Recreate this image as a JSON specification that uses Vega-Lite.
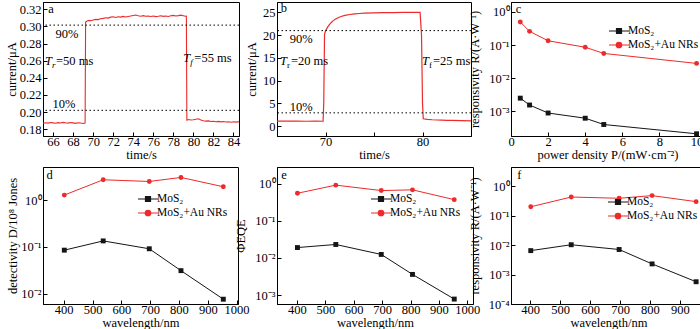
{
  "$schema": "https://vega.github.io/schema/vega-lite/v6.json",
  "padding": {"left": 4, "top": 1, "right": 0, "bottom": 0},
  "background": "white",
  "config": {
    "font": "Liberation Serif",
    "view": {"stroke": "#000000", "strokeWidth": 1},
    "axis": {"grid": false, "domainColor": "#000", "domainWidth": 1, "tickColor": "#000", "tickSize": -4, "tickWidth": 1,
      "labelColor": "#000", "labelFont": "Liberation Serif", "labelFontSize": 12.5, "labelPadding": 6, "labelFlush": false, "labelOverlap": false, "labelBound": false,
      "titleColor": "#000", "titleFont": "Liberation Serif", "titleFontSize": 12.5, "titleFontWeight": "normal", "titlePadding": 1},
    "text": {"font": "Liberation Serif", "fontSize": 12.5, "color": "#000"},
    "legend": {"labelFont": "Liberation Serif", "labelFontSize": 11.5, "labelColor": "#000"}
  },
  "resolve": {"scale": {"color": "independent"}, "legend": {"color": "independent"}},
  "columns": 3,
  "spacing": {"row": 31, "column": 38},
  "bounds": "flush",
  "concat": [
        {
          "width": 196, "height": 134,
          "layer": [
            {
              "data": {"values": [
                {"x":65.0,"y":0.1868},{"x":65.25,"y":0.1874},{"x":65.5,"y":0.1871},{"x":65.75,"y":0.1877},{"x":66.0,"y":0.1873},{"x":66.25,"y":0.1869},{"x":66.5,"y":0.1876},{"x":66.75,"y":0.1872},{"x":67.0,"y":0.1879},{"x":67.25,"y":0.1874},{"x":67.5,"y":0.187},{"x":67.75,"y":0.1877},{"x":68.0,"y":0.1873},{"x":68.25,"y":0.1868},{"x":68.5,"y":0.1875},{"x":68.75,"y":0.1871},{"x":69.0,"y":0.1866},{"x":69.2,"y":0.1872},
                {"x":69.25,"y":0.305},{"x":69.4,"y":0.3062},{"x":69.6,"y":0.307},{"x":69.8,"y":0.3066},{"x":70.0,"y":0.3075},{"x":70.25,"y":0.3082},{"x":70.5,"y":0.3079},{"x":70.75,"y":0.309},{"x":71.0,"y":0.3094},{"x":71.25,"y":0.3101},{"x":71.5,"y":0.3097},{"x":71.75,"y":0.3108},{"x":72.0,"y":0.3112},{"x":72.25,"y":0.3105},{"x":72.5,"y":0.3113},{"x":72.75,"y":0.3109},{"x":73.0,"y":0.3117},{"x":73.25,"y":0.311},{"x":73.5,"y":0.3116},{"x":73.75,"y":0.3122},{"x":74.0,"y":0.3128},{"x":74.25,"y":0.3133},{"x":74.5,"y":0.3124},{"x":74.75,"y":0.3119},{"x":75.0,"y":0.3126},{"x":75.25,"y":0.3118},{"x":75.5,"y":0.3122},{"x":75.75,"y":0.3115},{"x":76.0,"y":0.3121},{"x":76.25,"y":0.3114},{"x":76.5,"y":0.3119},{"x":76.75,"y":0.3125},{"x":77.0,"y":0.3117},{"x":77.25,"y":0.3122},{"x":77.5,"y":0.3116},{"x":77.75,"y":0.3124},{"x":78.0,"y":0.3129},{"x":78.25,"y":0.3121},{"x":78.5,"y":0.3126},{"x":78.75,"y":0.3132},{"x":79.0,"y":0.3125},{"x":79.2,"y":0.3118},{"x":79.3,"y":0.312},
                {"x":79.35,"y":0.1905},{"x":79.5,"y":0.1912},{"x":79.75,"y":0.1907},{"x":80.0,"y":0.191},{"x":80.25,"y":0.1916},{"x":80.5,"y":0.1921},{"x":80.75,"y":0.1908},{"x":81.0,"y":0.1899},{"x":81.25,"y":0.1894},{"x":81.5,"y":0.1897},{"x":81.75,"y":0.189},{"x":82.0,"y":0.1893},{"x":82.25,"y":0.1887},{"x":82.5,"y":0.1891},{"x":82.75,"y":0.1885},{"x":83.0,"y":0.1889},{"x":83.25,"y":0.1883},{"x":83.5,"y":0.1887},{"x":83.75,"y":0.1881},{"x":84.0,"y":0.1886},{"x":84.25,"y":0.1882},{"x":84.5,"y":0.1887},{"x":84.55,"y":0.1884}
              ]},
              "mark": {"type": "line", "color": "#ee2a2a", "strokeWidth": 1.1, "clip": true},
              "encoding": {
                "x": {"field": "x", "type": "quantitative", "scale": {"domain": [65, 84.55], "nice": false, "zero": false}, "axis": {"values": [66,68,70,72,74,76,78,80,82,84], "tickCount": 50, "format": "d", "title": "time/s", "labelOverlap": false, "labelPadding": 3.5, "titlePadding": 0}},
                "y": {"field": "y", "type": "quantitative", "scale": {"domain": [0.172, 0.3285], "nice": false, "zero": false}, "axis": {"values": [0.18,0.2,0.22,0.24,0.26,0.28,0.3,0.32], "tickCount": 50, "format": ".2f", "title": "current/μA", "titlePadding": 1, "labelOverlap": false}}
              }
            },
            {
              "data": {"values": [{"y": 0.3015}, {"y": 0.202}]},
              "mark": {"type": "rule", "color": "#000", "strokeDash": [1.5, 2.5], "strokeWidth": 1},
              "encoding": {"y": {"field": "y", "type": "quantitative"}}
            },
            {
              "data": {"values": [{"x": 67.4, "y": 0.291, "t": "90%"}, {"x": 67.1, "y": 0.209, "t": "10%"}, {"x": 65.8, "y": 0.3203, "t": "a"}]},
              "mark": {"type": "text", "align": "center", "baseline": "middle"},
              "encoding": {"x": {"field": "x", "type": "quantitative"}, "y": {"field": "y", "type": "quantitative"}, "text": {"field": "t"}}
            },
            {
              "data": {"values": [{"x": 65.2, "y": 0.26, "m": "T", "s": "r", "r": "=50 ms"}, {"x": 79.0, "y": 0.263, "m": "T", "s": "f", "r": "=55 ms"}]},
              "layer": [
                {"mark": {"type": "text", "align": "left", "baseline": "middle", "fontStyle": "italic"}, "encoding": {"text": {"field": "m"}}},
                {"mark": {"type": "text", "align": "left", "baseline": "middle", "fontStyle": "italic", "fontSize": 9, "dx": 7, "dy": 4}, "encoding": {"text": {"field": "s"}}},
                {"mark": {"type": "text", "align": "left", "baseline": "middle", "dx": 11}, "encoding": {"text": {"field": "r"}}}
              ],
              "encoding": {"x": {"field": "x", "type": "quantitative"}, "y": {"field": "y", "type": "quantitative"}}
            }
          ]
        },
        {
          "width": 194, "height": 134,
          "layer": [
            {
              "data": {"values": [
                {"x":65,"y":1.08},{"x":66,"y":1.06},{"x":67,"y":1.07},{"x":68,"y":1.05},{"x":69,"y":1.06},{"x":69.75,"y":1.05},{"x":69.82,"y":5},{"x":69.9,"y":20.2},{"x":70.0,"y":20.9},{"x":70.2,"y":21.7},{"x":70.4,"y":22.3},{"x":70.6,"y":22.8},{"x":70.8,"y":23.2},{"x":71.0,"y":23.5},{"x":71.3,"y":23.85},{"x":71.6,"y":24.1},{"x":72.0,"y":24.35},{"x":72.5,"y":24.55},{"x":73.0,"y":24.68},{"x":73.5,"y":24.77},{"x":74.0,"y":24.83},{"x":75.0,"y":24.9},{"x":76.0,"y":24.95},{"x":77.0,"y":24.98},{"x":78.0,"y":25.0},{"x":79.0,"y":25.0},{"x":79.75,"y":25.0},{"x":79.9,"y":20},{"x":80.0,"y":5},{"x":80.08,"y":1.6},{"x":80.5,"y":1.45},{"x":81,"y":1.38},{"x":82,"y":1.3},{"x":82.5,"y":1.22},{"x":83,"y":1.26},{"x":84,"y":1.2},{"x":85,"y":1.15}
              ]},
              "mark": {"type": "line", "color": "#ee2a2a", "strokeWidth": 1.2, "clip": true},
              "encoding": {
                "x": {"field": "x", "type": "quantitative", "scale": {"domain": [65, 85], "nice": false, "zero": false}, "axis": {"values": [70, 75, 80], "tickCount": 50, "format": "d", "labelExpr": "datum.value == 75 ? '' : datum.label", "title": "time/s", "labelOverlap": false, "labelPadding": 3.5, "titlePadding": 0}},
                "y": {"field": "y", "type": "quantitative", "scale": {"domain": [-2.2, 27.3], "nice": false, "zero": false}, "axis": {"values": [0,5,10,15,20,25], "tickCount": 50, "format": "d", "title": "current/μA", "titlePadding": 4, "labelOverlap": false}}
              }
            },
            {
              "data": {"values": [{"y": 21}, {"y": 2.9}]},
              "mark": {"type": "rule", "color": "#000", "strokeDash": [1.5, 2.5], "strokeWidth": 1},
              "encoding": {"y": {"field": "y", "type": "quantitative"}}
            },
            {
              "data": {"values": [{"x": 67.5, "y": 19.2, "t": "90%"}, {"x": 67.5, "y": 4.2, "t": "10%"}, {"x": 65.7, "y": 26.0, "t": "b"}]},
              "mark": {"type": "text", "align": "center", "baseline": "middle"},
              "encoding": {"x": {"field": "x", "type": "quantitative"}, "y": {"field": "y", "type": "quantitative"}, "text": {"field": "t"}}
            },
            {
              "data": {"values": [{"x": 65.3, "y": 14.4, "m": "T", "s": "r", "r": "=20 ms"}, {"x": 79.95, "y": 14.3, "m": "T", "s": "f", "r": "=25 ms"}]},
              "layer": [
                {"mark": {"type": "text", "align": "left", "baseline": "middle", "fontStyle": "italic"}, "encoding": {"text": {"field": "m"}}},
                {"mark": {"type": "text", "align": "left", "baseline": "middle", "fontSize": 9, "dx": 7, "dy": 4}, "encoding": {"text": {"field": "s"}}},
                {"mark": {"type": "text", "align": "left", "baseline": "middle", "dx": 11}, "encoding": {"text": {"field": "r"}}}
              ],
              "encoding": {"x": {"field": "x", "type": "quantitative"}, "y": {"field": "y", "type": "quantitative"}}
            }
          ]
        },
        {
          "width": 193, "height": 134,
          "layer": [
            {
              "data": {"values": [
                {"x":0.5,"y":0.0025,"s":"MoS₂"},{"x":1,"y":0.00155,"s":"MoS₂"},{"x":2,"y":0.00089,"s":"MoS₂"},{"x":4,"y":0.00062,"s":"MoS₂"},{"x":5,"y":0.0004,"s":"MoS₂"},{"x":10,"y":0.00021,"s":"MoS₂"},
                {"x":0.5,"y":0.5,"s":"MoS₂+Au NRs"},{"x":1,"y":0.26,"s":"MoS₂+Au NRs"},{"x":2,"y":0.135,"s":"MoS₂+Au NRs"},{"x":4,"y":0.086,"s":"MoS₂+Au NRs"},{"x":5,"y":0.056,"s":"MoS₂+Au NRs"},{"x":10,"y":0.028,"s":"MoS₂+Au NRs"}
              ]},
              "encoding": {
                "x": {"field": "x", "type": "quantitative", "scale": {"domain": [0, 10.4], "nice": false, "zero": false}, "axis": {"values": [0,2,4,6,8,10], "tickCount": 50, "format": "d", "title": "power density P/(mW·cm⁻²)", "labelOverlap": false, "labelPadding": 3.5, "titlePadding": 0}},
                "y": {"field": "y", "type": "quantitative", "scale": {"type": "log", "domain": [0.00018, 2.0], "nice": false}, "axis": {"values": [0.001,0.01,0.1,1], "tickCount": 50, "labelOverlap": false, "labelExpr": "'10' + replace(replace(replace(replace(replace(replace('' + round(log(datum.value)/LN10), '-', '⁻'), '0', '⁰'), '1', '¹'), '2', '²'), '3', '³'), '4', '⁴')", "title": "responsivity R/(A·W⁻¹)", "titlePadding": 7}},
                "color": {"field": "s", "type": "nominal", "scale": {"domain": ["MoS₂", "MoS₂+Au NRs"], "range": ["#151515", "#ee2a2a"]},
                  "legend": {"title": null, "orient": "none", "legendX": 102, "legendY": 23, "symbolSize": 100, "labelOffset": 3, "rowPadding": 2, "padding": 0, "symbolStrokeWidth": 1.2, "symbolType": "M-2,0H2M-0.5,-0.5H0.5V0.5H-0.5Z",
                    "encode": {"symbols": {"update": {
                      "shape": {"signal": "datum.value === 'MoS₂' ? 'M-2,0H2M-0.5,-0.5H0.5V0.5H-0.5Z' : 'M-2,0H2M0.55,0A0.55,0.55 0 1,1 -0.55,0A0.55,0.55 0 1,1 0.55,0Z'"},
                      "stroke": {"signal": "datum.value === 'MoS₂' ? '#151515' : '#ee2a2a'"},
                      "fill": {"signal": "datum.value === 'MoS₂' ? '#151515' : '#ee2a2a'"},
                      "strokeWidth": {"value": 1.2}}}}}}
              },
              "layer": [
                {"mark": {"type": "line", "strokeWidth": 1}},
                {"transform": [{"filter": "datum.s === 'MoS₂'"}], "mark": {"type": "point", "filled": true, "opacity": 1, "size": 24, "shape": "square"}},
                {"transform": [{"filter": "datum.s !== 'MoS₂'"}], "mark": {"type": "point", "filled": true, "opacity": 1, "size": 24, "shape": "circle"}}
              ]
            },
            {
              "data": {"values": [{"x": 0.41, "y": 1.27, "t": "c"}]},
              "mark": {"type": "text", "align": "center", "baseline": "middle"},
              "encoding": {"x": {"field": "x", "type": "quantitative"}, "y": {"field": "y", "type": "quantitative"}, "text": {"field": "t"}}
            }
          ]
        },
        {
          "width": 195, "height": 137,
          "layer": [
            {
              "data": {"values": [
                {"x":402,"y":0.085,"s":"MoS₂"},{"x":537,"y":0.134,"s":"MoS₂"},{"x":697,"y":0.091,"s":"MoS₂"},{"x":807,"y":0.031,"s":"MoS₂"},{"x":954,"y":0.0076,"s":"MoS₂"},
                {"x":402,"y":1.28,"s":"MoS₂+Au NRs"},{"x":537,"y":2.72,"s":"MoS₂+Au NRs"},{"x":697,"y":2.5,"s":"MoS₂+Au NRs"},{"x":807,"y":3.05,"s":"MoS₂+Au NRs"},{"x":954,"y":1.93,"s":"MoS₂+Au NRs"}
              ]},
              "encoding": {
                "x": {"field": "x", "type": "quantitative", "scale": {"domain": [328, 1005], "nice": false, "zero": false}, "axis": {"values": [400,500,600,700,800,900,1000], "tickCount": 50, "format": "d", "title": "wavelength/nm", "labelOverlap": false, "labelPadding": 3.5, "titlePadding": 0}},
                "y": {"field": "y", "type": "quantitative", "scale": {"type": "log", "domain": [0.006, 5.1], "nice": false}, "axis": {"values": [0.01,0.1,1], "tickCount": 50, "labelOverlap": false, "labelExpr": "'10' + replace(replace(replace(replace(replace(replace('' + round(log(datum.value)/LN10), '-', '⁻'), '0', '⁰'), '1', '¹'), '2', '²'), '3', '³'), '4', '⁴')", "title": "detectivity D/10⁸ Jones", "titlePadding": 1}},
                "color": {"field": "s", "type": "nominal", "scale": {"domain": ["MoS₂", "MoS₂+Au NRs"], "range": ["#151515", "#ee2a2a"]},
                  "legend": {"title": null, "orient": "none", "legendX": 99, "legendY": 26, "symbolSize": 100, "labelOffset": 3, "rowPadding": 2, "padding": 0, "symbolStrokeWidth": 1.2, "symbolType": "M-2,0H2M-0.5,-0.5H0.5V0.5H-0.5Z",
                    "encode": {"symbols": {"update": {
                      "shape": {"signal": "datum.value === 'MoS₂' ? 'M-2,0H2M-0.5,-0.5H0.5V0.5H-0.5Z' : 'M-2,0H2M0.55,0A0.55,0.55 0 1,1 -0.55,0A0.55,0.55 0 1,1 0.55,0Z'"},
                      "stroke": {"signal": "datum.value === 'MoS₂' ? '#151515' : '#ee2a2a'"},
                      "fill": {"signal": "datum.value === 'MoS₂' ? '#151515' : '#ee2a2a'"},
                      "strokeWidth": {"value": 1.2}}}}}}
              },
              "layer": [
                {"mark": {"type": "line", "strokeWidth": 1}},
                {"transform": [{"filter": "datum.s === 'MoS₂'"}], "mark": {"type": "point", "filled": true, "opacity": 1, "size": 24, "shape": "square"}},
                {"transform": [{"filter": "datum.s !== 'MoS₂'"}], "mark": {"type": "point", "filled": true, "opacity": 1, "size": 24, "shape": "circle"}}
              ]
            },
            {
              "data": {"values": [{"x": 351, "y": 3.48, "t": "d"}]},
              "mark": {"type": "text", "align": "center", "baseline": "middle"},
              "encoding": {"x": {"field": "x", "type": "quantitative"}, "y": {"field": "y", "type": "quantitative"}, "text": {"field": "t"}}
            }
          ]
        },
        {
          "width": 196, "height": 137,
          "layer": [
            {
              "data": {"values": [
                {"x":402,"y":0.019,"s":"MoS₂"},{"x":537,"y":0.023,"s":"MoS₂"},{"x":697,"y":0.0124,"s":"MoS₂"},{"x":807,"y":0.0036,"s":"MoS₂"},{"x":954,"y":0.00078,"s":"MoS₂"},
                {"x":402,"y":0.55,"s":"MoS₂+Au NRs"},{"x":537,"y":0.91,"s":"MoS₂+Au NRs"},{"x":697,"y":0.65,"s":"MoS₂+Au NRs"},{"x":807,"y":0.68,"s":"MoS₂+Au NRs"},{"x":954,"y":0.37,"s":"MoS₂+Au NRs"}
              ]},
              "encoding": {
                "x": {"field": "x", "type": "quantitative", "scale": {"domain": [330, 1020], "nice": false, "zero": false}, "axis": {"values": [400,500,600,700,800,900,1000], "tickCount": 50, "format": "d", "title": "wavelength/nm", "labelOverlap": false, "labelPadding": 3.5, "titlePadding": 0}},
                "y": {"field": "y", "type": "quantitative", "scale": {"type": "log", "domain": [0.000575, 2.8], "nice": false}, "axis": {"values": [0.001,0.01,0.1,1], "tickCount": 50, "labelOverlap": false, "labelExpr": "'10' + replace(replace(replace(replace(replace(replace('' + round(log(datum.value)/LN10), '-', '⁻'), '0', '⁰'), '1', '¹'), '2', '²'), '3', '³'), '4', '⁴')", "title": "ΦEQE", "titlePadding": 7}},
                "color": {"field": "s", "type": "nominal", "scale": {"domain": ["MoS₂", "MoS₂+Au NRs"], "range": ["#151515", "#ee2a2a"]},
                  "legend": {"title": null, "orient": "none", "legendX": 98, "legendY": 26, "symbolSize": 100, "labelOffset": 3, "rowPadding": 2, "padding": 0, "symbolStrokeWidth": 1.2, "symbolType": "M-2,0H2M-0.5,-0.5H0.5V0.5H-0.5Z",
                    "encode": {"symbols": {"update": {
                      "shape": {"signal": "datum.value === 'MoS₂' ? 'M-2,0H2M-0.5,-0.5H0.5V0.5H-0.5Z' : 'M-2,0H2M0.55,0A0.55,0.55 0 1,1 -0.55,0A0.55,0.55 0 1,1 0.55,0Z'"},
                      "stroke": {"signal": "datum.value === 'MoS₂' ? '#151515' : '#ee2a2a'"},
                      "fill": {"signal": "datum.value === 'MoS₂' ? '#151515' : '#ee2a2a'"},
                      "strokeWidth": {"value": 1.2}}}}}}
              },
              "layer": [
                {"mark": {"type": "line", "strokeWidth": 1}},
                {"transform": [{"filter": "datum.s === 'MoS₂'"}], "mark": {"type": "point", "filled": true, "opacity": 1, "size": 24, "shape": "square"}},
                {"transform": [{"filter": "datum.s !== 'MoS₂'"}], "mark": {"type": "point", "filled": true, "opacity": 1, "size": 24, "shape": "circle"}}
              ]
            },
            {
              "data": {"values": [{"x": 355, "y": 1.71, "t": "e"}]},
              "mark": {"type": "text", "align": "center", "baseline": "middle"},
              "encoding": {"x": {"field": "x", "type": "quantitative"}, "y": {"field": "y", "type": "quantitative"}, "text": {"field": "t"}}
            }
          ]
        },
        {
          "width": 195, "height": 137,
          "layer": [
            {
              "data": {"values": [
                {"x":402,"y":0.0065,"s":"MoS₂"},{"x":537,"y":0.0103,"s":"MoS₂"},{"x":697,"y":0.0071,"s":"MoS₂"},{"x":807,"y":0.0023,"s":"MoS₂"},{"x":954,"y":0.00057,"s":"MoS₂"},
                {"x":402,"y":0.2,"s":"MoS₂+Au NRs"},{"x":537,"y":0.43,"s":"MoS₂+Au NRs"},{"x":697,"y":0.39,"s":"MoS₂+Au NRs"},{"x":807,"y":0.48,"s":"MoS₂+Au NRs"},{"x":954,"y":0.3,"s":"MoS₂+Au NRs"}
              ]},
              "encoding": {
                "x": {"field": "x", "type": "quantitative", "scale": {"domain": [336, 987], "nice": false, "zero": false}, "axis": {"values": [400,500,600,700,800,900], "tickCount": 50, "format": "d", "title": "wavelength/nm", "labelOverlap": false, "labelPadding": 3.5, "titlePadding": 0}},
                "y": {"field": "y", "type": "quantitative", "scale": {"type": "log", "domain": [0.0001, 4.5], "nice": false}, "axis": {"values": [0.0001,0.001,0.01,0.1,1], "tickCount": 50, "labelOverlap": false, "labelExpr": "'10' + replace(replace(replace(replace(replace(replace('' + round(log(datum.value)/LN10), '-', '⁻'), '0', '⁰'), '1', '¹'), '2', '²'), '3', '³'), '4', '⁴')", "title": "responsivity R/(A·W⁻¹)", "titlePadding": 7}},
                "color": {"field": "s", "type": "nominal", "scale": {"domain": ["MoS₂", "MoS₂+Au NRs"], "range": ["#151515", "#ee2a2a"]},
                  "legend": {"title": null, "orient": "none", "legendX": 101, "legendY": 29, "symbolSize": 100, "labelOffset": 3, "rowPadding": 2, "padding": 0, "symbolStrokeWidth": 1.2, "symbolType": "M-2,0H2M-0.5,-0.5H0.5V0.5H-0.5Z",
                    "encode": {"symbols": {"update": {
                      "shape": {"signal": "datum.value === 'MoS₂' ? 'M-2,0H2M-0.5,-0.5H0.5V0.5H-0.5Z' : 'M-2,0H2M0.55,0A0.55,0.55 0 1,1 -0.55,0A0.55,0.55 0 1,1 0.55,0Z'"},
                      "stroke": {"signal": "datum.value === 'MoS₂' ? '#151515' : '#ee2a2a'"},
                      "fill": {"signal": "datum.value === 'MoS₂' ? '#151515' : '#ee2a2a'"},
                      "strokeWidth": {"value": 1.2}}}}}}
              },
              "layer": [
                {"mark": {"type": "line", "strokeWidth": 1}},
                {"transform": [{"filter": "datum.s === 'MoS₂'"}], "mark": {"type": "point", "filled": true, "opacity": 1, "size": 24, "shape": "square"}},
                {"transform": [{"filter": "datum.s !== 'MoS₂'"}], "mark": {"type": "point", "filled": true, "opacity": 1, "size": 24, "shape": "circle"}}
              ]
            },
            {
              "data": {"values": [{"x": 364, "y": 2.37, "t": "f"}]},
              "mark": {"type": "text", "align": "center", "baseline": "middle"},
              "encoding": {"x": {"field": "x", "type": "quantitative"}, "y": {"field": "y", "type": "quantitative"}, "text": {"field": "t"}}
            }
          ]
        }
  ]
}
